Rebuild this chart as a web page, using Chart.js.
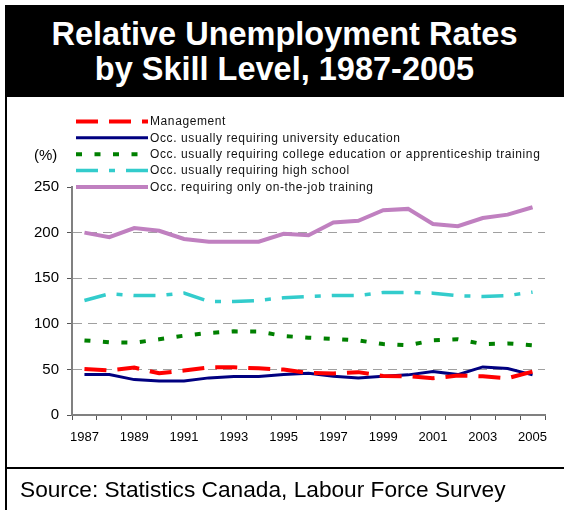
<!DOCTYPE html>
<html>
<head>
<meta charset="utf-8">
<script src="https://cdn.jsdelivr.net/npm/chart.js@4.4.0/dist/chart.umd.min.js"></script>
<style>
html,body{margin:0;padding:0;background:#fff;}
#wrap{position:relative;width:564px;height:510px;overflow:hidden;font-family:"Liberation Sans",Arial,sans-serif;}
#c{position:absolute;left:0;top:0;}
#title{position:absolute;left:5px;top:5px;width:559px;height:92px;background:#000;color:#fff;font-weight:bold;font-size:32.5px;line-height:35px;text-align:center;box-sizing:border-box;padding-top:12px;}
#lb{position:absolute;left:5px;top:97px;width:2px;height:413px;background:#000;}
#sep{position:absolute;left:5px;top:467px;width:559px;height:2px;background:#000;}
#src{position:absolute;left:20px;top:476px;font-size:22.7px;color:#000;white-space:nowrap;}
#pct{position:absolute;left:34px;top:146px;font-size:15px;color:#000;}
</style>
</head>
<body>
<div id="wrap">
<canvas id="c" width="564" height="510"></canvas>
<div id="title">Relative Unemployment Rates<br>by Skill Level, 1987-2005</div>
<div id="lb"></div>
<div id="sep"></div>
<div id="pct">(%)</div>
<div id="src">Source: Statistics Canada, Labour Force Survey</div>
</div>
<script>
const years = ['1987','1988','1989','1990','1991','1992','1993','1994','1995','1996','1997','1998','1999','2000','2001','2002','2003','2004','2005'];
const management = [50.5, 49, 52, 45.7, 48.7, 52.3, 52.3, 51.2, 49.8, 46.2, 45.5, 47, 42.8, 42.5, 40.3, 43.2, 42.5, 40.3, 47.6];
const university = [44.3, 44.3, 38.8, 37.2, 37.2, 40.7, 42.1, 42.3, 44.3, 45.7, 42.5, 40.7, 42.5, 44, 47.6, 44.3, 52.7, 50.9, 44];
const college = [81.8, 79.7, 79.3, 83, 87, 90, 91.7, 91.5, 86.6, 84.8, 83.5, 81.8, 77.8, 76.4, 81.8, 83, 77.8, 78.5, 76.4];
const highSchool = [125.6, 133, 131, 131, 133.7, 124.5, 124.5, 125.6, 128.6, 130, 131, 131, 134.4, 134.4, 133.6, 130.7, 130, 131, 134.7];
const jobTraining = [200, 195, 205, 202, 193, 190, 190, 190, 198.6, 197, 211, 213, 224.5, 226, 209.5, 207, 216, 219.7, 227.8];
const seriesNames = ['Management','Occ. usually requiring university education','Occ. usually requiring college education or apprenticeship training','Occ. usually requiring high school','Occ. requiring only on-the-job training'];
const yMin = 0, yMax = 250, yStep = 50;

const legendPlugin = {
  id: 'sideLegend',
  afterDraw(chart) {
    const c = chart.ctx;
    c.save();
    chart.data.datasets.forEach((ds, i) => {
      const y = 121.5 + i * 16.35;
      c.beginPath();
      c.setLineDash(ds.borderDash || []);
      c.lineWidth = ds.borderWidth;
      c.strokeStyle = ds.borderColor;
      c.moveTo(76, y);
      c.lineTo(148, y);
      c.stroke();
      c.setLineDash([]);
      c.fillStyle = '#111';
      c.font = '12px "Liberation Sans", Arial, sans-serif';
      if ('letterSpacing' in c) c.letterSpacing = '0.6px';
      c.textBaseline = 'middle';
      c.textAlign = 'left';
      c.fillText(ds.label, 150, y + 0.5);
    });
    c.restore();
  }
};

new Chart(document.getElementById('c'), {
  type: 'line',
  data: {
    labels: years,
    datasets: [
      {label: seriesNames[0], data: management, borderColor: '#ff0000', borderWidth: 4, borderDash: [22, 11]},
      {label: seriesNames[1], data: university, borderColor: '#000080', borderWidth: 3},
      {label: seriesNames[2], data: college, borderColor: '#008000', borderWidth: 4, borderDash: [6, 12.5]},
      {label: seriesNames[3], data: highSchool, borderColor: '#33cccc', borderWidth: 3.5, borderDash: [22, 11, 6, 11]},
      {label: seriesNames[4], data: jobTraining, borderColor: '#c080c0', borderWidth: 4}
    ]
  },
  options: {
    responsive: false,
    animation: false,
    layout: {padding: {top: 187, right: 19, bottom: 55, left: 0}},
    elements: {point: {radius: 0}, line: {tension: 0, fill: false}},
    plugins: {legend: {display: false}, tooltip: {enabled: false}, title: {display: false}},
    scales: {
      x: {
        offset: true,
        grid: {offset: true, drawOnChartArea: false, drawTicks: true, tickLength: 5, tickColor: '#555', tickWidth: 1},
        border: {color: '#808080', width: 2},
        ticks: {autoSkip: false, maxRotation: 0, minRotation: 0, padding: 10, color: '#000',
          font: {family: '"Liberation Sans", Arial, sans-serif', size: 13},
          callback: (v, i) => (i % 2 === 0 ? years[i] : '')},
        afterFit: s => { s.height = 40; }
      },
      y: {
        min: yMin, max: yMax,
        ticks: {stepSize: yStep, padding: 8, color: '#000', font: {family: '"Liberation Sans", Arial, sans-serif', size: 15}},
        grid: {color: ctx => (ctx.tick && (ctx.tick.value === yMin || ctx.tick.value === yMax)) ? 'rgba(0,0,0,0)' : '#a0a0a0',
          lineWidth: 1, tickLength: 5, tickColor: '#555', tickWidth: 1},
        border: {color: '#808080', width: 2, dash: [9, 6]},
        afterFit: s => { s.width = 72; }
      }
    }
  },
  plugins: [legendPlugin]
});
</script>
</body>
</html>
